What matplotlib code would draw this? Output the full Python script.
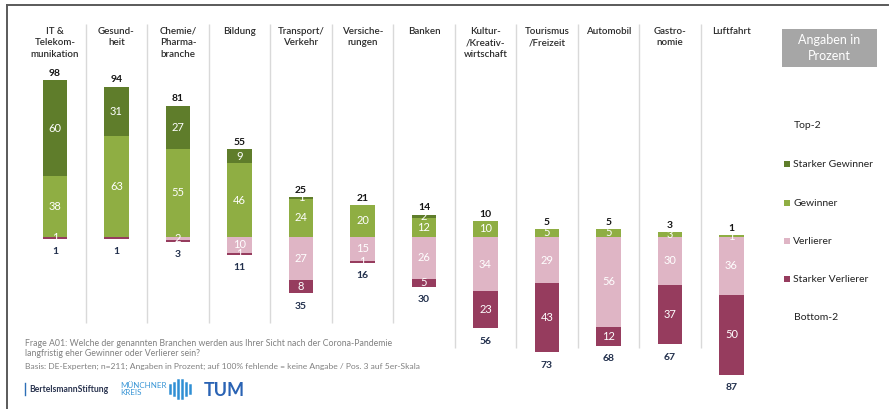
import matplotlib.pyplot as plt
from matplotlib.patches import Rectangle
from matplotlib.lines import Line2D
import numpy as np

plt.rcParams['font.family'] = ['Lato', 'DejaVu Sans']

branchen = ["IT &\nTelekom-\nmunikation", "Gesund-\nheit", "Chemie/\nPharma-\nbranche", "Bildung",
            "Transport/\nVerkehr", "Versiche-\nrungen", "Banken", "Kultur-\n/Kreativ-\nwirtschaft",
            "Tourismus\n/Freizeit", "Automobil", "Gastro-\nnomie", "Luftfahrt"]
starker_gewinner = [60, 31, 27, 9, 1, 0, 2, 0, 0, 0, 0, 0]
gewinner = [38, 63, 55, 46, 24, 20, 12, 10, 5, 5, 3, 1]
verlierer = [0, 0, 2, 10, 27, 15, 26, 34, 29, 56, 30, 36]
starker_verlierer = [1, 1, 1, 1, 8, 1, 5, 23, 43, 12, 37, 50]
top2 = [98, 94, 81, 55, 25, 21, 14, 10, 5, 5, 3, 1]
bottom2 = [1, 1, 3, 11, 35, 16, 30, 56, 73, 68, 67, 87]
# labels not printed in the original
hidden = {(1, 3), (2, 3)}

farben = ['#5f7d2b', '#8fae43', '#dfb5c5', '#963c5e']
legende = ["Starker Gewinner", "Gewinner", "Verlierer", "Starker Verlierer"]

W, H = 890, 409


def fx(x):
    return x / W


def fy(y):
    return 1 - y / H


fig = plt.figure(figsize=(W / 100, H / 100), dpi=100)
ax = fig.add_axes([fx(24.25), fy(397), 738 / W, 368 / H])
ax.set_xlim(-0.5, 11.5)
ax.set_ylim(-100, 130)
ax.axis('off')

x = np.arange(len(branchen))
bw = 0.4
sg = np.array(starker_gewinner)
g = np.array(gewinner)
v = np.array(verlierer)
sv = np.array(starker_verlierer)

segs = [(sg, g), (g, np.zeros(len(g))), (-v, np.zeros(len(v))), (-sv, -v)]
for k, (h, b) in enumerate(segs):
    ax.bar(x, h, bw, bottom=b, color=farben[k], edgecolor='none')
    for i in range(len(x)):
        if h[i] == 0 or (i, k) in hidden:
            continue
        ax.text(x[i], b[i] + h[i] / 2, str(abs(int(h[i]))), ha='center', va='center',
                color='white', fontsize=8)

# totals
for i in range(len(x)):
    ax.annotate(str(top2[i]), (x[i], sg[i] + g[i]), xytext=(0, 5), textcoords='offset points',
                ha='center', va='center', fontsize=7.5, fontweight='bold', color='#151515')
    ax.annotate(str(bottom2[i]), (x[i], -(v[i] + sv[i])), xytext=(0, -9.5), textcoords='offset points',
                ha='center', va='center', fontsize=7.5, fontweight='bold', color='#22304d')

# separators
sep = np.arange(len(x) - 1) + 0.5
ax.vlines(sep[:6], -54, 133, color='#d9d9d9', lw=1, clip_on=False)
ax.vlines(sep[6:], -69.5, 133, color='#d9d9d9', lw=1, clip_on=False)

for i, name in enumerate(branchen):
    ax.text(x[i], 131.5, name, ha='center', va='top', fontsize=7, fontweight='semibold',
            color='#2a2a2a', linespacing=1.4)

# legend area
fig.add_artist(Rectangle((fx(782), fy(67)), 95 / W, 38 / H, transform=fig.transFigure,
                         color='#a6a6a6', lw=0))
fig.text(fx(829.5), fy(48), "Angaben in\nProzent", ha='center', va='center', color='white',
         fontsize=9, linespacing=1.3)
fig.text(fx(794), fy(126), "Top-2", ha='left', va='center', fontsize=7.5, color='#222222')
fig.text(fx(794), fy(318), "Bottom-2", ha='left', va='center', fontsize=7.5, color='#222222')
for k, (lab, yy) in enumerate(zip(legende, [164, 203, 241, 279])):
    fig.add_artist(Rectangle((fx(784), fy(yy + 3)), 6 / W, 6 / H, transform=fig.transFigure,
                             color=farben[k], lw=0))
    fig.text(fx(793), fy(yy), lab, ha='left', va='center', fontsize=7.5, color='#222222')

# footnote
fig.text(fx(25), fy(344), "Frage A01: Welche der genannten Branchen werden aus Ihrer Sicht nach der Corona-Pandemie",
         ha='left', va='center', fontsize=6.3, color='#808080')
fig.text(fx(25), fy(353.5), "langfristig eher Gewinner oder Verlierer sein?",
         ha='left', va='center', fontsize=6.3, color='#808080')
fig.text(fx(25), fy(366), "Basis: DE-Experten; n=211; Angaben in Prozent; auf 100% fehlende = keine Angabe / Pos. 3 auf 5er-Skala",
         ha='left', va='center', fontsize=6.1, color='#808080')

# logos as text
fig.add_artist(Line2D([fx(25), fx(25)], [fy(383), fy(395)], transform=fig.transFigure,
                      color='#2d6fb7', lw=1))
fig.text(fx(29), fy(389), "BertelsmannStiftung", ha='left', va='center', fontsize=6.2,
         fontweight='bold', color='#2b3550')
fig.text(fx(120), fy(389), "MÜNCHNER\nKREIS", ha='left', va='center', fontsize=5.8,
         color='#3a96d6', linespacing=1.0)
for j, (xx, hh) in enumerate(zip([170, 174, 178, 182, 186, 190], [8, 12, 18, 18, 12, 8])):
    fig.add_artist(Line2D([fx(xx), fx(xx)], [fy(389 - hh / 2), fy(389 + hh / 2)],
                          transform=fig.transFigure, color='#2f8fd4', lw=1.8))
fig.text(fx(204), fy(390), "TUM", ha='left', va='center', fontsize=13, fontweight='bold',
         color='#2a63b4')

# frame
fig.add_artist(Line2D([fx(7), fx(888)], [fy(5), fy(5)], transform=fig.transFigure,
                      color='#5a5a5a', lw=1.4))
fig.add_artist(Line2D([fx(7), fx(7)], [fy(5), fy(409)], transform=fig.transFigure,
                      color='#5a5a5a', lw=1.4))

fig.savefig("out.png", dpi=100)
